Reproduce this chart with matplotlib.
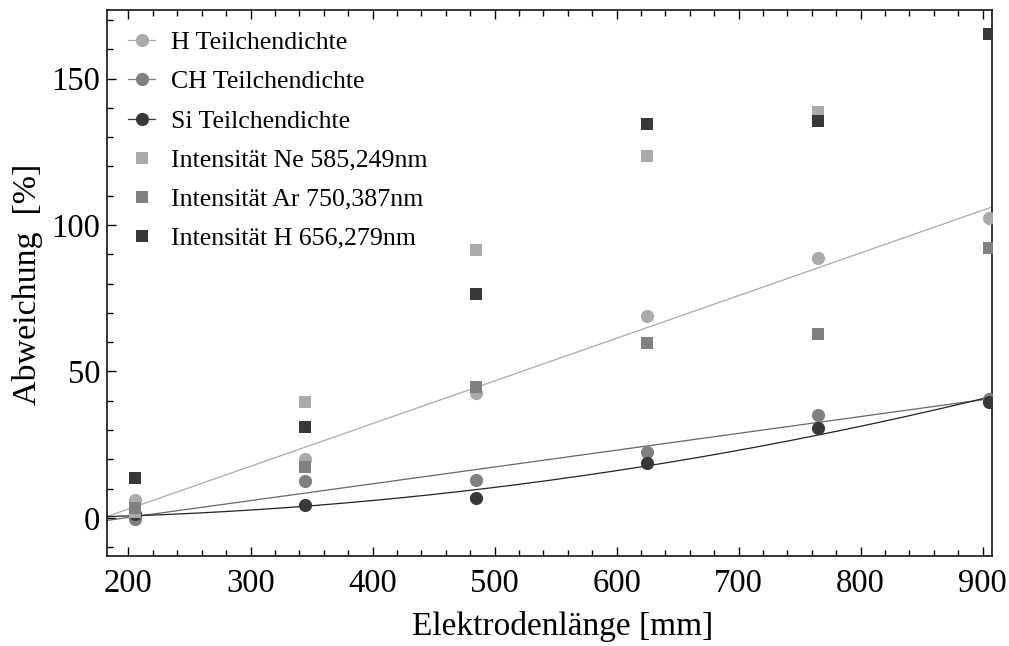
import numpy as np
import matplotlib
matplotlib.use('Agg')
import matplotlib.pyplot as plt
from matplotlib.lines import Line2D
from matplotlib.ticker import MultipleLocator

plt.rcParams['font.family'] = ['Liberation Serif', 'DejaVu Serif']

# Elektrodenlaenge [mm]
laenge = np.array([205, 345, 485, 625, 765, 905])

# Teilchendichte-Abweichung [%]
h_dichte = np.array([6.1, 20.0, 42.5, 69.0, 88.8, 102.3])
ch_dichte = np.array([-0.4, 12.6, 13.0, 22.6, 35.0, 40.5])
si_dichte = np.array([1.3, 4.4, 6.7, 18.8, 30.8, 39.7])

# Intensitaets-Abweichung [%]
ne_int = np.array([2.0, 39.5, 91.5, 123.5, 138.6, np.nan])
ar_int = np.array([3.4, 17.5, 44.6, 59.7, 62.7, 92.3])
h_int = np.array([13.5, 31.2, 76.5, 134.4, 135.4, 165.2])

c_hell = '#aaaaaa'
c_mittel = '#808080'
c_dunkel = '#383838'

fig = plt.figure(figsize=(10.09, 6.46), dpi=100)
ax = fig.add_axes([0.1063, 0.1393, 0.8766, 0.8452])

x_min, x_max = 182.6, 907.4
xs = np.linspace(x_min, x_max, 300)

# Ausgleichsgeraden / -parabel
p_h = np.polyfit(laenge, h_dichte, 1)
p_ch = np.polyfit(laenge, ch_dichte, 1)
p_si = np.polyfit(laenge, si_dichte, 2)
ax.plot(xs, np.polyval(p_h, xs), color=c_hell, lw=0.9, zorder=2)
ax.plot(xs, np.polyval(p_ch, xs), color='#666666', lw=0.9, zorder=2)
ax.plot(xs, np.polyval(p_si, xs), color='#222222', lw=0.9, zorder=2)

ms_k = 9.5
ms_q = 8
ax.plot(laenge, h_dichte, 'o', color=c_hell, ms=ms_k, mew=0, zorder=3)
ax.plot(laenge, ch_dichte, 'o', color=c_mittel, ms=ms_k, mew=0, zorder=3)
ax.plot(laenge, si_dichte, 'o', color=c_dunkel, ms=ms_k, mew=0, zorder=3)
ax.plot(laenge, ne_int, 's', color=c_hell, ms=ms_q, mew=0, zorder=4)
ax.plot(laenge, ar_int, 's', color=c_mittel, ms=ms_q, mew=0, zorder=4)
ax.plot(laenge, h_int, 's', color=c_dunkel, ms=ms_q, mew=0, zorder=4)

ax.set_xlim(x_min, x_max)
ax.set_ylim(-13, 173.4)

ax.xaxis.set_major_locator(MultipleLocator(100))
ax.xaxis.set_minor_locator(MultipleLocator(20))
ax.yaxis.set_major_locator(MultipleLocator(50))
ax.yaxis.set_minor_locator(MultipleLocator(10))
ax.tick_params(which='both', direction='in', top=True, right=False, width=1.0)
ax.tick_params(which='major', length=6.5)
ax.tick_params(which='minor', length=4)
ax.tick_params(axis='x', labelsize=23.5, pad=9)
ax.tick_params(axis='y', labelsize=23.5, pad=5)
for s in ax.spines.values():
    s.set_linewidth(1.1)

fig.text(563 / 1009, (646 - 627) / 646, 'Elektrodenlänge [mm]', fontsize=24,
         ha='center', va='center')
fig.text(27.5 / 1009, (646 - 284) / 646, 'Abweichung  [%]', fontsize=24.5,
         ha='center', va='center', rotation=90)

handles = [
    Line2D([], [], color=c_hell, lw=0.9, marker='o', ms=ms_k, mew=0),
    Line2D([], [], color=c_mittel, lw=0.9, marker='o', ms=ms_k, mew=0),
    Line2D([], [], color=c_dunkel, lw=0.9, marker='o', ms=ms_k, mew=0),
    Line2D([], [], color=c_hell, lw=0, marker='s', ms=ms_q, mew=0),
    Line2D([], [], color=c_mittel, lw=0, marker='s', ms=ms_q, mew=0),
    Line2D([], [], color=c_dunkel, lw=0, marker='s', ms=ms_q, mew=0),
]
labels = ['H Teilchendichte', 'CH Teilchendichte', 'Si Teilchendichte',
          'Intensität Ne 585,249nm', 'Intensität Ar 750,387nm',
          'Intensität H 656,279nm']
ax.legend(handles, labels, loc='upper left', bbox_to_anchor=(0.0234, 0.961),
          frameon=False, fontsize=18.6, borderaxespad=0, borderpad=0,
          handlelength=1.05, handletextpad=0.62, labelspacing=0.62)

fig.savefig('out.png', dpi=100)
